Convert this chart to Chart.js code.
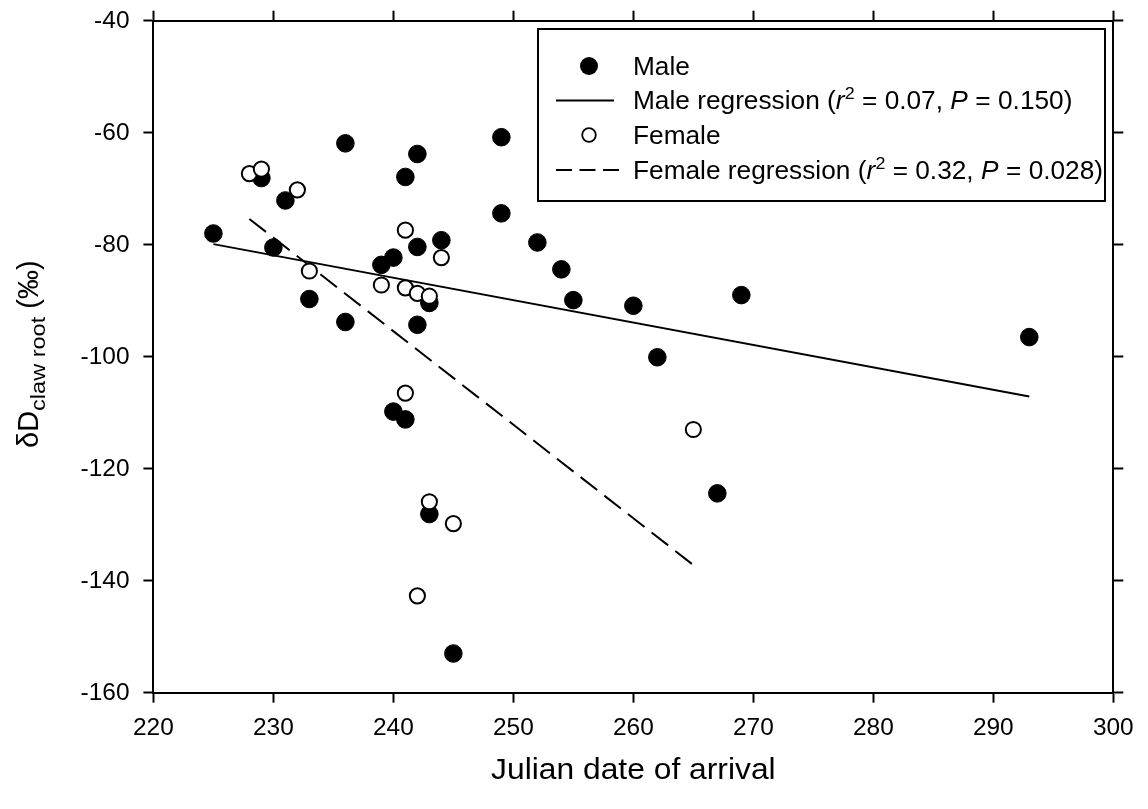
<!DOCTYPE html>
<html>
<head>
<meta charset="utf-8">
<script src="https://cdn.jsdelivr.net/npm/chart.js@4.4.1/dist/chart.umd.min.js"></script>
<style>
  html, body { margin: 0; padding: 0; background: #fff; }
  #wrap { width: 1148px; height: 809px; position: relative; }
</style>
</head>
<body>
<div id="wrap"><canvas id="c" width="1148" height="809"></canvas></div>
<script>
// Arrival date (Julian day) and claw-root deuterium values, males
const maleDates = [225, 229, 230, 231, 233, 236, 236, 239, 240, 240, 241, 241, 242, 242, 242,
                   243, 243, 244, 245, 249, 249, 252, 254, 255, 260, 262, 267, 269, 293];
const maleDD = [-78.0, -68.1, -80.5, -72.1, -89.7, -61.9, -93.8, -83.6, -82.3, -109.8, -67.9, -111.2, -63.8, -80.4, -94.3,
                -90.4, -128.1, -79.2, -153.0, -60.8, -74.4, -79.6, -84.4, -89.9, -90.9, -100.1, -124.4, -89.0, -96.5];

// Females
const femaleDates = [228, 229, 232, 233, 239, 241, 241, 241, 242, 242, 243, 243, 244, 245, 265];
const femaleDD = [-67.3, -66.5, -70.2, -84.7, -87.2, -77.4, -87.7, -106.5, -88.7, -142.7, -89.2, -125.9, -82.3, -129.8, -113.0];

// Fitted regression lines (end points)
const maleFitDates = [225, 293];
const maleFitDD = [-79.9, -107.1];
const femaleFitDates = [228, 265];
const femaleFitDD = [-75.4, -137.2];

// Axis ticks and titles
const xTickValues = [220, 230, 240, 250, 260, 270, 280, 290, 300];
const yTickValues = [-40, -60, -80, -100, -120, -140, -160];
const xTitle = 'Julian date of arrival';
const yTitleMain = '\u03B4D';
const yTitleSub = 'claw root';
const yTitleUnit = ' (\u2030)';

// Legend entries: text runs (n = normal, i = italic, s = superscript)
const legendMale = [['n', 'Male']];
const legendMaleFit = [['n', 'Male regression ('], ['i', 'r'], ['s', '2'], ['n', ' = 0.07, '], ['i', 'P'], ['n', ' = 0.150)']];
const legendFemale = [['n', 'Female']];
const legendFemaleFit = [['n', 'Female regression ('], ['i', 'r'], ['s', '2'], ['n', ' = 0.32, '], ['i', 'P'], ['n', ' = 0.028)']];

const FONT = '"Liberation Sans", Arial, Helvetica, sans-serif';

function toPoints(xs, ys) { return xs.map((x, i) => ({ x: x, y: ys[i] })); }

// Draw a run of text segments starting at (x, y) along the local x axis
function drawRuns(ctx, runs, x, y, size, sx) {
  ctx.save();
  ctx.translate(x, y);
  ctx.scale(sx, 1);
  ctx.textBaseline = 'alphabetic';
  ctx.textAlign = 'left';
  let cx = 0;
  for (const [kind, s] of runs) {
    let fs = size, dy = 0, style = '';
    if (kind === 'i') style = 'italic ';
    if (kind === 's') { fs = size * 0.68; dy = -size * 0.4; }
    ctx.font = style + fs + 'px ' + FONT;
    ctx.fillText(s, cx, dy);
    cx += ctx.measureText(s).width + (kind === 'i' ? size * 0.01 : 0);
  }
  ctx.restore();
}

function plainText(ctx, s, x, y, size, align, sx) {
  ctx.save();
  ctx.translate(x, y);
  ctx.scale(sx, 1);
  ctx.font = size + 'px ' + FONT;
  ctx.textAlign = align;
  ctx.textBaseline = 'middle';
  ctx.fillText(s, 0, 0);
  ctx.restore();
}

const annotations = {
  id: 'annotations',
  afterDraw(chart) {
    const ctx = chart.ctx;
    const xs = chart.scales.x, ys = chart.scales.y;
    ctx.save();
    ctx.fillStyle = '#000';
    ctx.strokeStyle = '#000';

    // tick labels
    xTickValues.forEach(v => plainText(ctx, String(v), xs.getPixelForValue(v), 728, 24, 'center', 1.02));
    yTickValues.forEach(v => plainText(ctx, String(v), 129.5, ys.getPixelForValue(v) + 0.5, 24, 'right', 1.02));

    // x title
    plainText(ctx, xTitle, (chart.chartArea.left + chart.chartArea.right) / 2, 771, 30, 'center', 1.06);

    // y title, rotated
    ctx.save();
    ctx.translate(38, 448);
    ctx.rotate(-Math.PI / 2);
    ctx.font = '29px ' + FONT;
    ctx.textBaseline = 'alphabetic';
    ctx.fillText(yTitleMain, 0, 0);
    let w = ctx.measureText(yTitleMain).width;
    ctx.save();
    ctx.translate(w, 7);
    ctx.scale(1.12, 1);
    ctx.font = '21px ' + FONT;
    ctx.fillText(yTitleSub, 0, 0);
    const ws = ctx.measureText(yTitleSub).width * 1.12;
    ctx.restore();
    ctx.font = '29px ' + FONT;
    ctx.fillText(yTitleUnit, w + ws, 0);
    ctx.restore();

    // legend box
    ctx.lineWidth = 2;
    ctx.strokeRect(538, 29, 567, 172);

    const rows = [66, 100.5, 135, 170];
    const tx = 633, size = 25, sx = 1.05, base = 8.8;
    // filled marker
    ctx.beginPath(); ctx.arc(589, rows[0], 9, 0, Math.PI * 2); ctx.fill();
    drawRuns(ctx, legendMale, tx, rows[0] + base, size, sx);
    // solid line
    ctx.beginPath(); ctx.moveTo(556, rows[1]); ctx.lineTo(614, rows[1]); ctx.stroke();
    drawRuns(ctx, legendMaleFit, tx, rows[1] + base, size, sx);
    // open marker
    ctx.lineWidth = 1.8;
    ctx.beginPath(); ctx.arc(589, rows[2], 6.8, 0, Math.PI * 2);
    ctx.fillStyle = '#fff'; ctx.fill(); ctx.stroke();
    ctx.fillStyle = '#000';
    drawRuns(ctx, legendFemale, tx, rows[2] + base, size, sx);
    // dashed line
    ctx.lineWidth = 2;
    ctx.setLineDash([16, 7.5]);
    ctx.beginPath(); ctx.moveTo(556, rows[3]); ctx.lineTo(620, rows[3]); ctx.stroke();
    ctx.setLineDash([]);
    drawRuns(ctx, legendFemaleFit, tx, rows[3] + base, size, sx);

    ctx.restore();
  }
};

function axis(position, min, max, step, size) {
  return {
    type: 'linear',
    position: position,
    min: min,
    max: max,
    ticks: { display: false, stepSize: step },
    grid: {
      drawOnChartArea: false,
      drawTicks: true,
      tickLength: 10,
      tickColor: '#000',
      tickWidth: 2,
      color: '#000'
    },
    border: { display: true, color: '#000', width: 2 },
    afterFit(scale) {
      if (scale.isHorizontal()) scale.height = size; else scale.width = size;
    }
  };
}

new Chart(document.getElementById('c'), {
  type: 'scatter',
  data: {
    datasets: [
      {
        label: 'Female',
        data: toPoints(femaleDates, femaleDD),
        pointRadius: 7.6,
        pointBorderWidth: 2,
        pointBackgroundColor: '#fff',
        pointBorderColor: '#000',
        order: 0
      },
      {
        label: 'Male',
        data: toPoints(maleDates, maleDD),
        pointRadius: 8.8,
        pointBorderWidth: 1,
        pointBackgroundColor: '#000',
        pointBorderColor: '#000',
        order: 1
      },
      {
        label: 'Male regression',
        data: toPoints(maleFitDates, maleFitDD),
        showLine: true,
        pointRadius: 0,
        borderColor: '#000',
        borderWidth: 2,
        order: 2
      },
      {
        label: 'Female regression',
        data: toPoints(femaleFitDates, femaleFitDD),
        showLine: true,
        pointRadius: 0,
        borderColor: '#000',
        borderWidth: 2,
        borderDash: [21, 9],
        order: 3
      }
    ]
  },
  options: {
    responsive: false,
    animation: false,
    devicePixelRatio: 1,
    layout: { padding: 0 },
    scales: {
      x: axis('bottom', 220, 300, 10, 116.3),
      y: axis('left', -160, -40, 20, 153.4),
      x2: axis('top', 220, 300, 10, 20.7),
      y2: axis('right', -160, -40, 20, 34.7)
    },
    plugins: {
      legend: { display: false },
      tooltip: { enabled: false }
    },
    events: []
  },
  plugins: [annotations]
});
</script>
</body>
</html>
